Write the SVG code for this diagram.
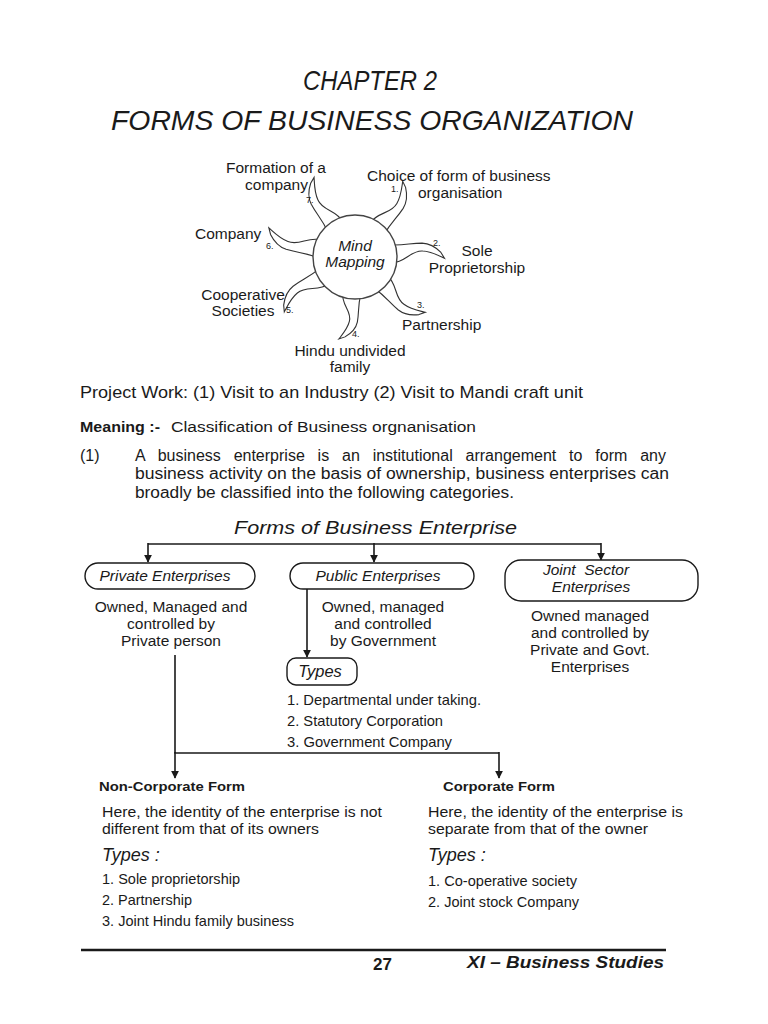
<svg xmlns="http://www.w3.org/2000/svg" width="768" height="1024" viewBox="0 0 768 1024">
<defs>
<style>
text{font-family:"Liberation Sans",Arial,sans-serif;fill:#1a1a1a}
.t{font-size:28px;font-style:italic}
.m{font-size:15.5px}
.s{font-size:14.5px}
.n{font-size:9px}
.b{font-size:16px}
.i{font-style:italic}
.bd{font-weight:bold}
.c{text-anchor:middle}
.box{fill:#fff;stroke:#1a1a1a;stroke-width:1.4}
.ln{fill:none;stroke:#1a1a1a;stroke-width:1.6}
.ray{fill:#fff;stroke:#333;stroke-width:1.1}
</style>
<marker id="ar" viewBox="0 0 10 10" refX="9" refY="5" markerWidth="5" markerHeight="5" orient="auto" markerUnits="strokeWidth">
<path d="M0,0 L10,5 L0,10 Z" fill="#1a1a1a"/>
</marker>
<path id="petal" d="M-4,-9 C10,-10 16,2 28,0 C36,-1 42,-5 49,-9 L46,-3 C42,2 37,7 28,8 C16,9 10,7 -4,9 Z"/>
</defs>

<g id="title">
<text class="t" x="303" y="90" textLength="134" lengthAdjust="spacingAndGlyphs">CHAPTER 2</text>
<text class="t" x="111" y="130" textLength="522" lengthAdjust="spacingAndGlyphs">FORMS OF BUSINESS ORGANIZATION</text>
</g>

<g id="mindmap">
<use href="#petal" class="ray" transform="translate(355,257) rotate(-123) translate(40,0) scale(1,-1)"/>
<use href="#petal" class="ray" transform="translate(355,257) rotate(-52) translate(40,0)"/>
<use href="#petal" class="ray" transform="translate(355,257) rotate(-5) translate(40,0) scale(1,-1)"/>
<use href="#petal" class="ray" transform="translate(355,257) rotate(44) translate(40,0)"/>
<use href="#petal" class="ray" transform="translate(355,257) rotate(95) translate(40,0) scale(0.88,-1)"/>
<use href="#petal" class="ray" transform="translate(355,257) rotate(148) translate(40,0)"/>
<use href="#petal" class="ray" transform="translate(355,257) rotate(193) translate(40,0) scale(1.03,-1)"/>
<circle cx="355" cy="257" r="42" fill="#fff" stroke="#444" stroke-width="1.4"/>
<text class="m i c" x="355" y="251">Mind</text>
<text class="m i c" x="355" y="267">Mapping</text>
<text class="n" x="391" y="192">1.</text>
<text class="n" x="433" y="246">2.</text>
<text class="n" x="417" y="308">3.</text>
<text class="n" x="352" y="337">4.</text>
<text class="n" x="286" y="313">5.</text>
<text class="n" x="266" y="249">6.</text>
<text class="n" x="306" y="203">7.</text>
<text class="m c" x="276" y="173">Formation of a</text>
<text class="m" x="308" y="190" text-anchor="end">company</text>
<text class="m" x="367" y="181">Choice of form of business</text>
<text class="m" x="418" y="198">organisation</text>
<text class="m" x="195" y="239">Company</text>
<text class="m c" x="477" y="256">Sole</text>
<text class="m c" x="477" y="273">Proprietorship</text>
<text class="m c" x="243" y="300">Cooperative</text>
<text class="m c" x="243" y="316">Societies</text>
<text class="m" x="402" y="330">Partnership</text>
<text class="m c" x="350" y="356">Hindu undivided</text>
<text class="m c" x="350" y="372">family</text>
</g>

<g id="intro">
<text x="80" y="398" font-size="17" textLength="503" lengthAdjust="spacingAndGlyphs">Project Work: (1) Visit to an Industry (2) Visit to Mandi craft unit</text>
<text x="80" y="432" font-size="15.5" font-weight="bold" textLength="80" lengthAdjust="spacingAndGlyphs">Meaning :-</text>
<text x="171" y="432" font-size="15.5" textLength="305" lengthAdjust="spacingAndGlyphs">Classification of Business orgnanisation</text>
<text class="b" x="80" y="461">(1)</text>
<text class="b" x="135" y="461" word-spacing="8.4">A business enterprise is an institutional arrangement to form any</text>
<text class="b" x="135" y="479" textLength="534" lengthAdjust="spacingAndGlyphs">business activity on the basis of ownership, business enterprises can</text>
<text class="b" x="135" y="498" textLength="379" lengthAdjust="spacingAndGlyphs">broadly be classified into the following categories.</text>
<text class="i" x="234" y="534" font-size="19" textLength="283" lengthAdjust="spacingAndGlyphs">Forms of Business Enterprise</text>
</g>

<g id="connectors">
<path class="ln" d="M148,544 H601"/>
<path class="ln" d="M148,543 V562" marker-end="url(#ar)"/>
<path class="ln" d="M374,543 V562" marker-end="url(#ar)"/>
<path class="ln" d="M601,543 V560" marker-end="url(#ar)"/>
<path class="ln" d="M307,589 V657" marker-end="url(#ar)"/>
<path class="ln" d="M175,655 V753 H499"/>
<path class="ln" d="M175,752 V778" marker-end="url(#ar)"/>
<path class="ln" d="M499,752 V778" marker-end="url(#ar)"/>
</g>

<g id="private">
<rect class="box" x="85" y="563" width="170" height="26" rx="13"/>
<text class="m i c" x="165" y="581">Private Enterprises</text>
<text class="m c" x="171" y="612">Owned, Managed and</text>
<text class="m c" x="171" y="629">controlled by</text>
<text class="m c" x="171" y="646">Private person</text>
</g>

<g id="public">
<rect class="box" x="290" y="563" width="184" height="26" rx="13"/>
<text class="m i c" x="378" y="581">Public Enterprises</text>
<text class="m c" x="383" y="612">Owned, managed</text>
<text class="m c" x="383" y="629">and controlled</text>
<text class="m c" x="383" y="646">by Government</text>
</g>

<g id="joint">
<rect class="box" x="505" y="560" width="193" height="41" rx="16"/>
<text class="m i c" x="586" y="575" xml:space="preserve">Joint  Sector</text>
<text class="m i c" x="591" y="592">Enterprises</text>
<text class="m c" x="590" y="621">Owned managed</text>
<text class="m c" x="590" y="638">and controlled by</text>
<text class="m c" x="590" y="655">Private and Govt.</text>
<text class="m c" x="590" y="672">Enterprises</text>
</g>

<g id="types">
<rect class="box" x="287" y="658" width="70" height="27" rx="9"/>
<text class="i c" x="320" y="677" font-size="16.5">Types</text>
<text class="s" x="287" y="705" textLength="194" lengthAdjust="spacingAndGlyphs">1. Departmental under taking.</text>
<text class="s" x="287" y="726" textLength="156" lengthAdjust="spacingAndGlyphs">2. Statutory Corporation</text>
<text class="s" x="287" y="747" textLength="165" lengthAdjust="spacingAndGlyphs">3. Government Company</text>
</g>

<g id="noncorporate">
<text class="bd" x="99" y="791" font-size="13.5" textLength="146" lengthAdjust="spacingAndGlyphs">Non-Corporate Form</text>
<text class="m" x="102" y="817" textLength="280" lengthAdjust="spacingAndGlyphs">Here, the identity of the enterprise is not</text>
<text class="m" x="102" y="834" textLength="217" lengthAdjust="spacingAndGlyphs">different from that of its owners</text>
<text class="i" x="102" y="861" font-size="18">Types :</text>
<text class="s" x="102" y="884" textLength="138" lengthAdjust="spacingAndGlyphs">1. Sole proprietorship</text>
<text class="s" x="102" y="905" textLength="90" lengthAdjust="spacingAndGlyphs">2. Partnership</text>
<text class="s" x="102" y="926" textLength="192" lengthAdjust="spacingAndGlyphs">3. Joint Hindu family business</text>
</g>

<g id="corporate">
<text class="bd" x="443" y="791" font-size="13.5" textLength="112" lengthAdjust="spacingAndGlyphs">Corporate Form</text>
<text class="m" x="428" y="817" textLength="255" lengthAdjust="spacingAndGlyphs">Here, the identity of the enterprise is</text>
<text class="m" x="428" y="834" textLength="220" lengthAdjust="spacingAndGlyphs">separate from that of the owner</text>
<text class="i" x="428" y="861" font-size="18">Types :</text>
<text class="s" x="428" y="886" textLength="149" lengthAdjust="spacingAndGlyphs">1. Co-operative society</text>
<text class="s" x="428" y="907" textLength="151" lengthAdjust="spacingAndGlyphs">2. Joint stock Company</text>
</g>

<g id="footer">
<line x1="81" y1="950" x2="666" y2="950" stroke="#1a1a1a" stroke-width="2.6"/>
<text class="bd" x="373" y="970" font-size="17">27</text>
<text class="bd i" x="467" y="968" font-size="17" textLength="197" lengthAdjust="spacingAndGlyphs">XI – Business Studies</text>
</g>
</svg>
